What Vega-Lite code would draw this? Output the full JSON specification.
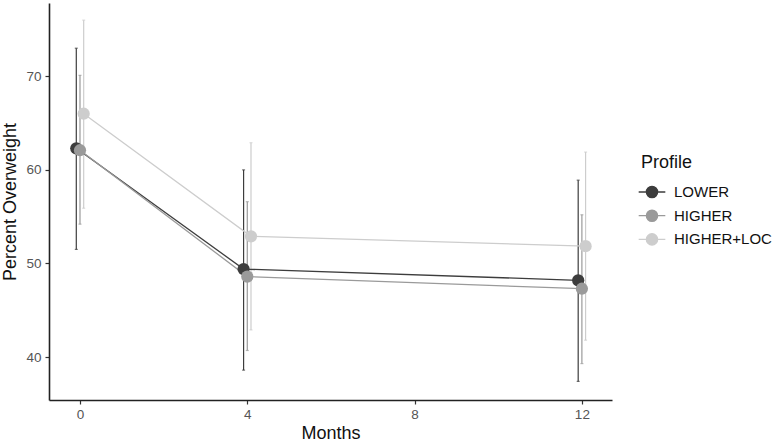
{
  "$schema": "https://vega.github.io/schema/vega-lite/v6.json",
  "width": 563,
  "height": 397,
  "autosize": {"type": "none"},
  "padding": {"left": 49, "top": 3, "right": 162, "bottom": 43},
  "background": "white",
  "config": {
    "view": {"stroke": null},
    "font": "Liberation Sans",
    "axis": {
      "grid": false,
      "domainColor": "#222222",
      "domainWidth": 1.6,
      "tickColor": "#333333",
      "tickSize": 4,
      "tickWidth": 1.2,
      "labelColor": "#555555",
      "labelFontSize": 13.5,
      "labelFont": "Liberation Sans",
      "titleFont": "Liberation Sans",
      "titleFontSize": 18,
      "titleFontWeight": "normal",
      "titleColor": "#111111"
    }
  },
  "data": {
    "values": [
      {"Months": 0, "Profile": "LOWER", "mean": 62.3, "lo": 51.5, "hi": 73.0},
      {"Months": 4, "Profile": "LOWER", "mean": 49.4, "lo": 38.6, "hi": 60.0},
      {"Months": 12, "Profile": "LOWER", "mean": 48.2, "lo": 37.4, "hi": 58.9},
      {"Months": 0, "Profile": "HIGHER", "mean": 62.1, "lo": 54.2, "hi": 70.1},
      {"Months": 4, "Profile": "HIGHER", "mean": 48.6, "lo": 40.7, "hi": 56.6},
      {"Months": 12, "Profile": "HIGHER", "mean": 47.3, "lo": 39.3, "hi": 55.2},
      {"Months": 0, "Profile": "HIGHER+LOC", "mean": 66.0, "lo": 55.9, "hi": 76.0},
      {"Months": 4, "Profile": "HIGHER+LOC", "mean": 52.9, "lo": 42.9, "hi": 62.9},
      {"Months": 12, "Profile": "HIGHER+LOC", "mean": 51.85, "lo": 41.8, "hi": 61.9}
    ]
  },
  "encoding": {
    "x": {
      "field": "Months",
      "type": "quantitative",
      "scale": {"domain": [-0.741, 12.72], "nice": false, "zero": false},
      "axis": {"values": [0, 4, 8, 12], "title": "Months", "labelPadding": 3, "titlePadding": 4}
    },
    "color": {
      "field": "Profile",
      "type": "nominal",
      "scale": {"domain": ["LOWER", "HIGHER", "HIGHER+LOC"], "range": ["#3d3d3d", "#9a9a9a", "#cdcdcd"]},
      "legend": {
        "title": "Profile",
        "orient": "none",
        "legendX": 592,
        "legendY": 151,
        "titleFontSize": 18,
        "titleFontWeight": "normal",
        "titleColor": "#111111",
        "titlePadding": 9,
        "labelFontSize": 15,
        "labelColor": "#111111",
        "labelOffset": 11,
        "symbolType": "M -1.3 0 L -0.5 0 M 0.5 0 L 1.3 0 M 0.55 0 A 0.55 0.55 0 1 1 -0.55 0 A 0.55 0.55 0 1 1 0.55 0",
        "symbolSize": 420,
        "symbolStrokeWidth": 1.3,
        "symbolOpacity": 1,
        "rowPadding": 3.7
      }
    }
  },
  "layer": [
    {
      "mark": {"type": "rule", "strokeWidth": 1.2, "xOffset": {"expr": "datum.Profile === 'LOWER' ? -3.7 : datum.Profile === 'HIGHER' ? 0 : 3.7"}},
      "encoding": {
        "y": {"field": "lo", "type": "quantitative", "scale": {"domain": [35.41, 77.83], "nice": false, "zero": false}, "axis": {"values": [40, 50, 60, 70], "title": "Percent Overweight", "labelPadding": 4, "titlePadding": 6}},
        "y2": {"field": "hi"}
      }
    },
    {
      "mark": {"type": "tick", "orient": "horizontal", "size": 3, "thickness": 1.2, "xOffset": {"expr": "datum.Profile === 'LOWER' ? -3.7 : datum.Profile === 'HIGHER' ? 0 : 3.7"}},
      "encoding": {"y": {"field": "lo", "type": "quantitative"}}
    },
    {
      "mark": {"type": "tick", "orient": "horizontal", "size": 3, "thickness": 1.2, "xOffset": {"expr": "datum.Profile === 'LOWER' ? -3.7 : datum.Profile === 'HIGHER' ? 0 : 3.7"}},
      "encoding": {"y": {"field": "hi", "type": "quantitative"}}
    },
    {
      "mark": {"type": "line", "strokeWidth": 1.3, "xOffset": {"expr": "datum.Profile === 'LOWER' ? -3.7 : datum.Profile === 'HIGHER' ? 0 : 3.7"}},
      "encoding": {
        "y": {"field": "mean", "type": "quantitative"},
        "detail": {"field": "Profile"}
      }
    },
    {
      "mark": {"type": "point", "filled": true, "opacity": 1, "size": 150, "xOffset": {"expr": "datum.Profile === 'LOWER' ? -3.7 : datum.Profile === 'HIGHER' ? 0 : 3.7"}},
      "encoding": {"y": {"field": "mean", "type": "quantitative"}}
    }
  ]
}
